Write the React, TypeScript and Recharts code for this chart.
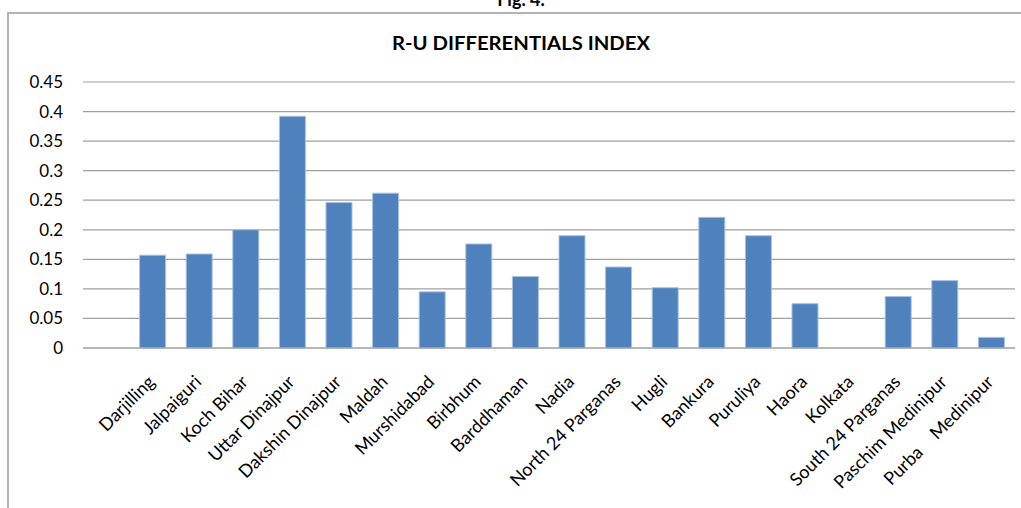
import React from "react";
import { BarChart, Bar, XAxis, YAxis, CartesianGrid } from "recharts";

// first slot is empty in the source sheet
const districts = [
  "",
  "Darjilling",
  "Jalpaiguri",
  "Koch Bihar",
  "Uttar Dinajpur",
  "Dakshin Dinajpur",
  "Maldah",
  "Murshidabad",
  "Birbhum",
  "Barddhaman",
  "Nadia",
  "North 24 Parganas",
  "Hugli",
  "Bankura",
  "Puruliya",
  "Haora",
  "Kolkata",
  "South 24 Parganas",
  "Paschim Medinipur",
  "Purba    Medinipur",
];

const indexValues = [
  null, 0.157, 0.159, 0.2, 0.392, 0.246, 0.262, 0.095, 0.176, 0.121,
  0.19, 0.137, 0.102, 0.221, 0.19, 0.075, 0, 0.087, 0.114, 0.018,
];

const yTicks = [0, 0.05, 0.1, 0.15, 0.2, 0.25, 0.3, 0.35, 0.4, 0.45];

const data = districts.map((name, i) => ({ name, value: indexValues[i] }));

const FONT = "Lato, 'Liberation Sans', sans-serif";

const DistrictTick = (props: any) => {
  const { x, y, payload } = props;
  const ax = x + 3;
  const ay = y + 35;
  return (
    <text
      x={ax}
      y={ay}
      transform={`rotate(-45, ${ax}, ${ay})`}
      textAnchor="end"
      fill="#000"
      fontSize={18}
      fontFamily={FONT}
      style={{ whiteSpace: "pre" }}
    >
      {payload.value}
    </text>
  );
};

export default function App() {
  return (
    <div
      style={{
        position: "fixed",
        left: 0,
        top: 0,
        width: 1021,
        height: 508,
        overflow: "hidden",
        background: "#fff",
      }}
    >
      <div
        style={{
          position: "absolute",
          left: 7,
          top: 12,
          width: 1100,
          height: 600,
          border: "2px solid #b4b4b4",
          boxSizing: "border-box",
        }}
      />
      <svg
        width={1021}
        height={60}
        style={{ position: "absolute", left: 0, top: 0 }}
      >
        <text
          x={521}
          y={6}
          textAnchor="middle"
          fontFamily={FONT}
          fontWeight="bold"
          fontSize={18}
          fill="#000"
        >
          Fig. 4.
        </text>
        <text
          x={521}
          y={50}
          textAnchor="middle"
          fontFamily={FONT}
          fontWeight="bold"
          fontSize={18}
          fill="#000"
          textLength={258}
          lengthAdjust="spacingAndGlyphs"
        >
          R-U DIFFERENTIALS INDEX
        </text>
      </svg>
      <div style={{ position: "absolute", left: 0, top: 0 }}>
        <BarChart
          width={1021}
          height={508}
          data={data}
          margin={{ top: 82, right: 6, bottom: 0, left: 0 }}
          barSize={26}
        >
          <CartesianGrid
            vertical={false}
            stroke="#a0a0a0"
            strokeWidth={1.2}
          />
          <XAxis
            dataKey="name"
            interval={0}
            tickLine={false}
            tickSize={0}
            tickMargin={0}
            axisLine={{ stroke: "#a0a0a0", strokeWidth: 1.2 }}
            tick={<DistrictTick />}
            height={160}
          />
          <YAxis
            width={83}
            domain={[0, 0.45]}
            ticks={yTicks}
            interval={0}
            tickLine={false}
            axisLine={false}
            tickSize={6}
            tickMargin={14}
            tick={{ fill: "#000", fontSize: 17, fontFamily: FONT }}
          />
          <Bar
            dataKey="value"
            fill="#4f81bd"
            stroke="#a9c2e2"
            strokeWidth={1}
            isAnimationActive={false}
          />
        </BarChart>
      </div>
    </div>
  );
}
